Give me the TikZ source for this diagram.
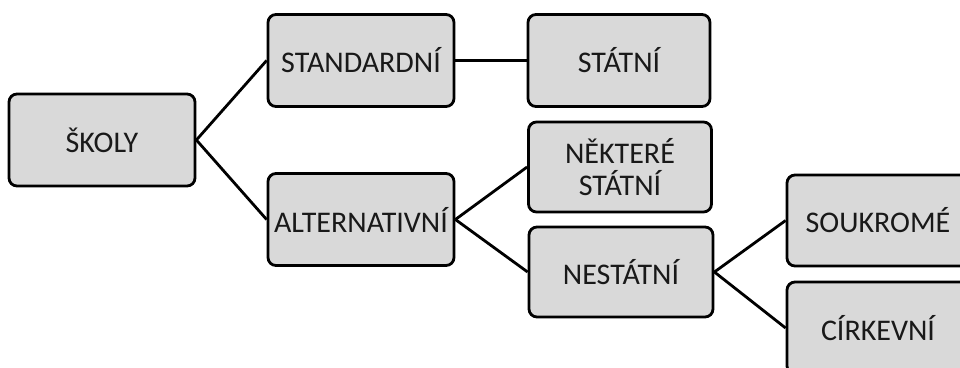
\documentclass[tikz,border=0pt]{standalone}
\usepackage{fontspec}
\setmainfont{Carlito}
\begin{document}
\begin{tikzpicture}[x=1pt,y=-1pt,
  box/.style={draw=black, line width=2.8pt, fill=boxgray, rounded corners=8pt,
    minimum width=#1, minimum height=92pt, inner sep=0pt, align=center,
    font=\fontsize{30}{32}\selectfont, text=black!90},
  box/.default=184pt,
  conn/.style={draw=black, line width=2.8pt}]
\definecolor{boxgray}{HTML}{D9D9D9}
\useasboundingbox (0,0) rectangle (960,367);
\clip (0,0) rectangle (960,367);
\node[box=186pt] (skoly) at (102,140) {ŠKOLY};
\node[box=186pt] (std) at (361,60.5) {STANDARDNÍ};
\node[box=182pt] (stat) at (619,60.5) {STÁTNÍ};
\node[box=186pt] (alt) at (361,219.5) {ALTERNATIVNÍ};
\node[box=183pt, minimum height=90pt] (nek) at (620,167) {NĚKTERÉ\\STÁTNÍ};
\node[box=184pt, minimum height=90pt] (nest) at (621,272) {NESTÁTNÍ};
\node[box=182pt, minimum height=91pt] (souk) at (878,220.5) {SOUKROMÉ};
\node[box=182pt] (cirk) at (878,328) {CÍRKEVNÍ};
\draw[conn] (skoly.east) -- (std.west);
\draw[conn] (skoly.east) -- (alt.west);
\draw[conn] (std.east) -- (stat.west);
\draw[conn] (alt.east) -- (nek.west);
\draw[conn] (alt.east) -- (nest.west);
\draw[conn] (nest.east) -- (souk.west);
\draw[conn] (nest.east) -- (cirk.west);
\end{tikzpicture}
\end{document}
